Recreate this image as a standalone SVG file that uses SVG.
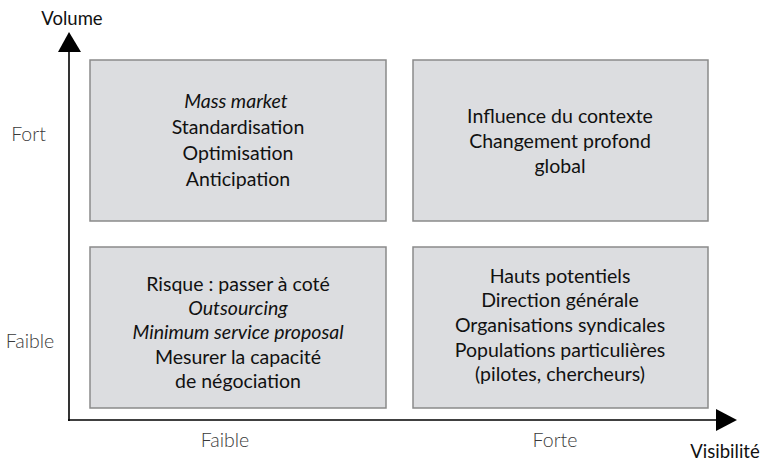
<svg xmlns="http://www.w3.org/2000/svg" width="765" height="461" viewBox="0 0 765 461">
<style>
text{font-family:"Lato","Liberation Sans",sans-serif;fill:#111}
.b{font-size:19.5px;text-anchor:middle}
.i{font-style:italic}
.ax{font-size:19.5px;fill:#3a3a3a;font-weight:300;text-anchor:middle}
.t{font-size:18.5px;text-anchor:middle}
.box{fill:#dcdde0;stroke:#8a8a8a;stroke-width:1.5}
.line{stroke:#000;stroke-width:1.6;fill:none}
</style>
<rect width="765" height="461" fill="#fff"/>
<g id="connectors">
<line class="line" x1="69" y1="421" x2="69" y2="50"/>
<polygon points="69,32 58,52 81,52" fill="#000"/>
<line class="line" x1="68" y1="420" x2="718" y2="420"/>
<polygon points="737,420 716,409 716,431" fill="#000"/>
</g>
<g id="labels">
<text class="t" x="72" y="25">Volume</text>
<text class="ax" x="28.5" y="141">Fort</text>
<text class="ax" x="30" y="348">Faible</text>
<text class="ax" x="225" y="447">Faible</text>
<text class="ax" x="555" y="447">Forte</text>
<text class="t" x="725" y="458">Visibilité</text>
</g>
<g id="q1">
<rect class="box" x="90" y="60" width="296" height="161"/>
<text class="b i" x="236" y="108">Mass market</text>
<text class="b" x="238" y="134">Standardisation</text>
<text class="b" x="238" y="160">Optimisation</text>
<text class="b" x="238" y="186">Anticipation</text>
</g>
<g id="q2">
<rect class="box" x="413" y="60" width="295" height="161"/>
<text class="b" x="560" y="123">Influence du contexte</text>
<text class="b" x="560" y="148">Changement profond</text>
<text class="b" x="560" y="173">global</text>
</g>
<g id="q3">
<rect class="box" x="90" y="247" width="296" height="161"/>
<text class="b" x="238" y="291">Risque : passer à coté</text>
<text class="b i" x="238" y="315">Outsourcing</text>
<text class="b i" x="238" y="339">Minimum service proposal</text>
<text class="b" x="238" y="364">Mesurer la capacité</text>
<text class="b" x="238" y="388">de négociation</text>
</g>
<g id="q4">
<rect class="box" x="413" y="247" width="295" height="161"/>
<text class="b" x="560" y="283">Hauts potentiels</text>
<text class="b" x="560" y="307">Direction générale</text>
<text class="b" x="560" y="332">Organisations syndicales</text>
<text class="b" x="560" y="357">Populations particulières</text>
<text class="b" x="560" y="381">(pilotes, chercheurs)</text>
</g>
</svg>
